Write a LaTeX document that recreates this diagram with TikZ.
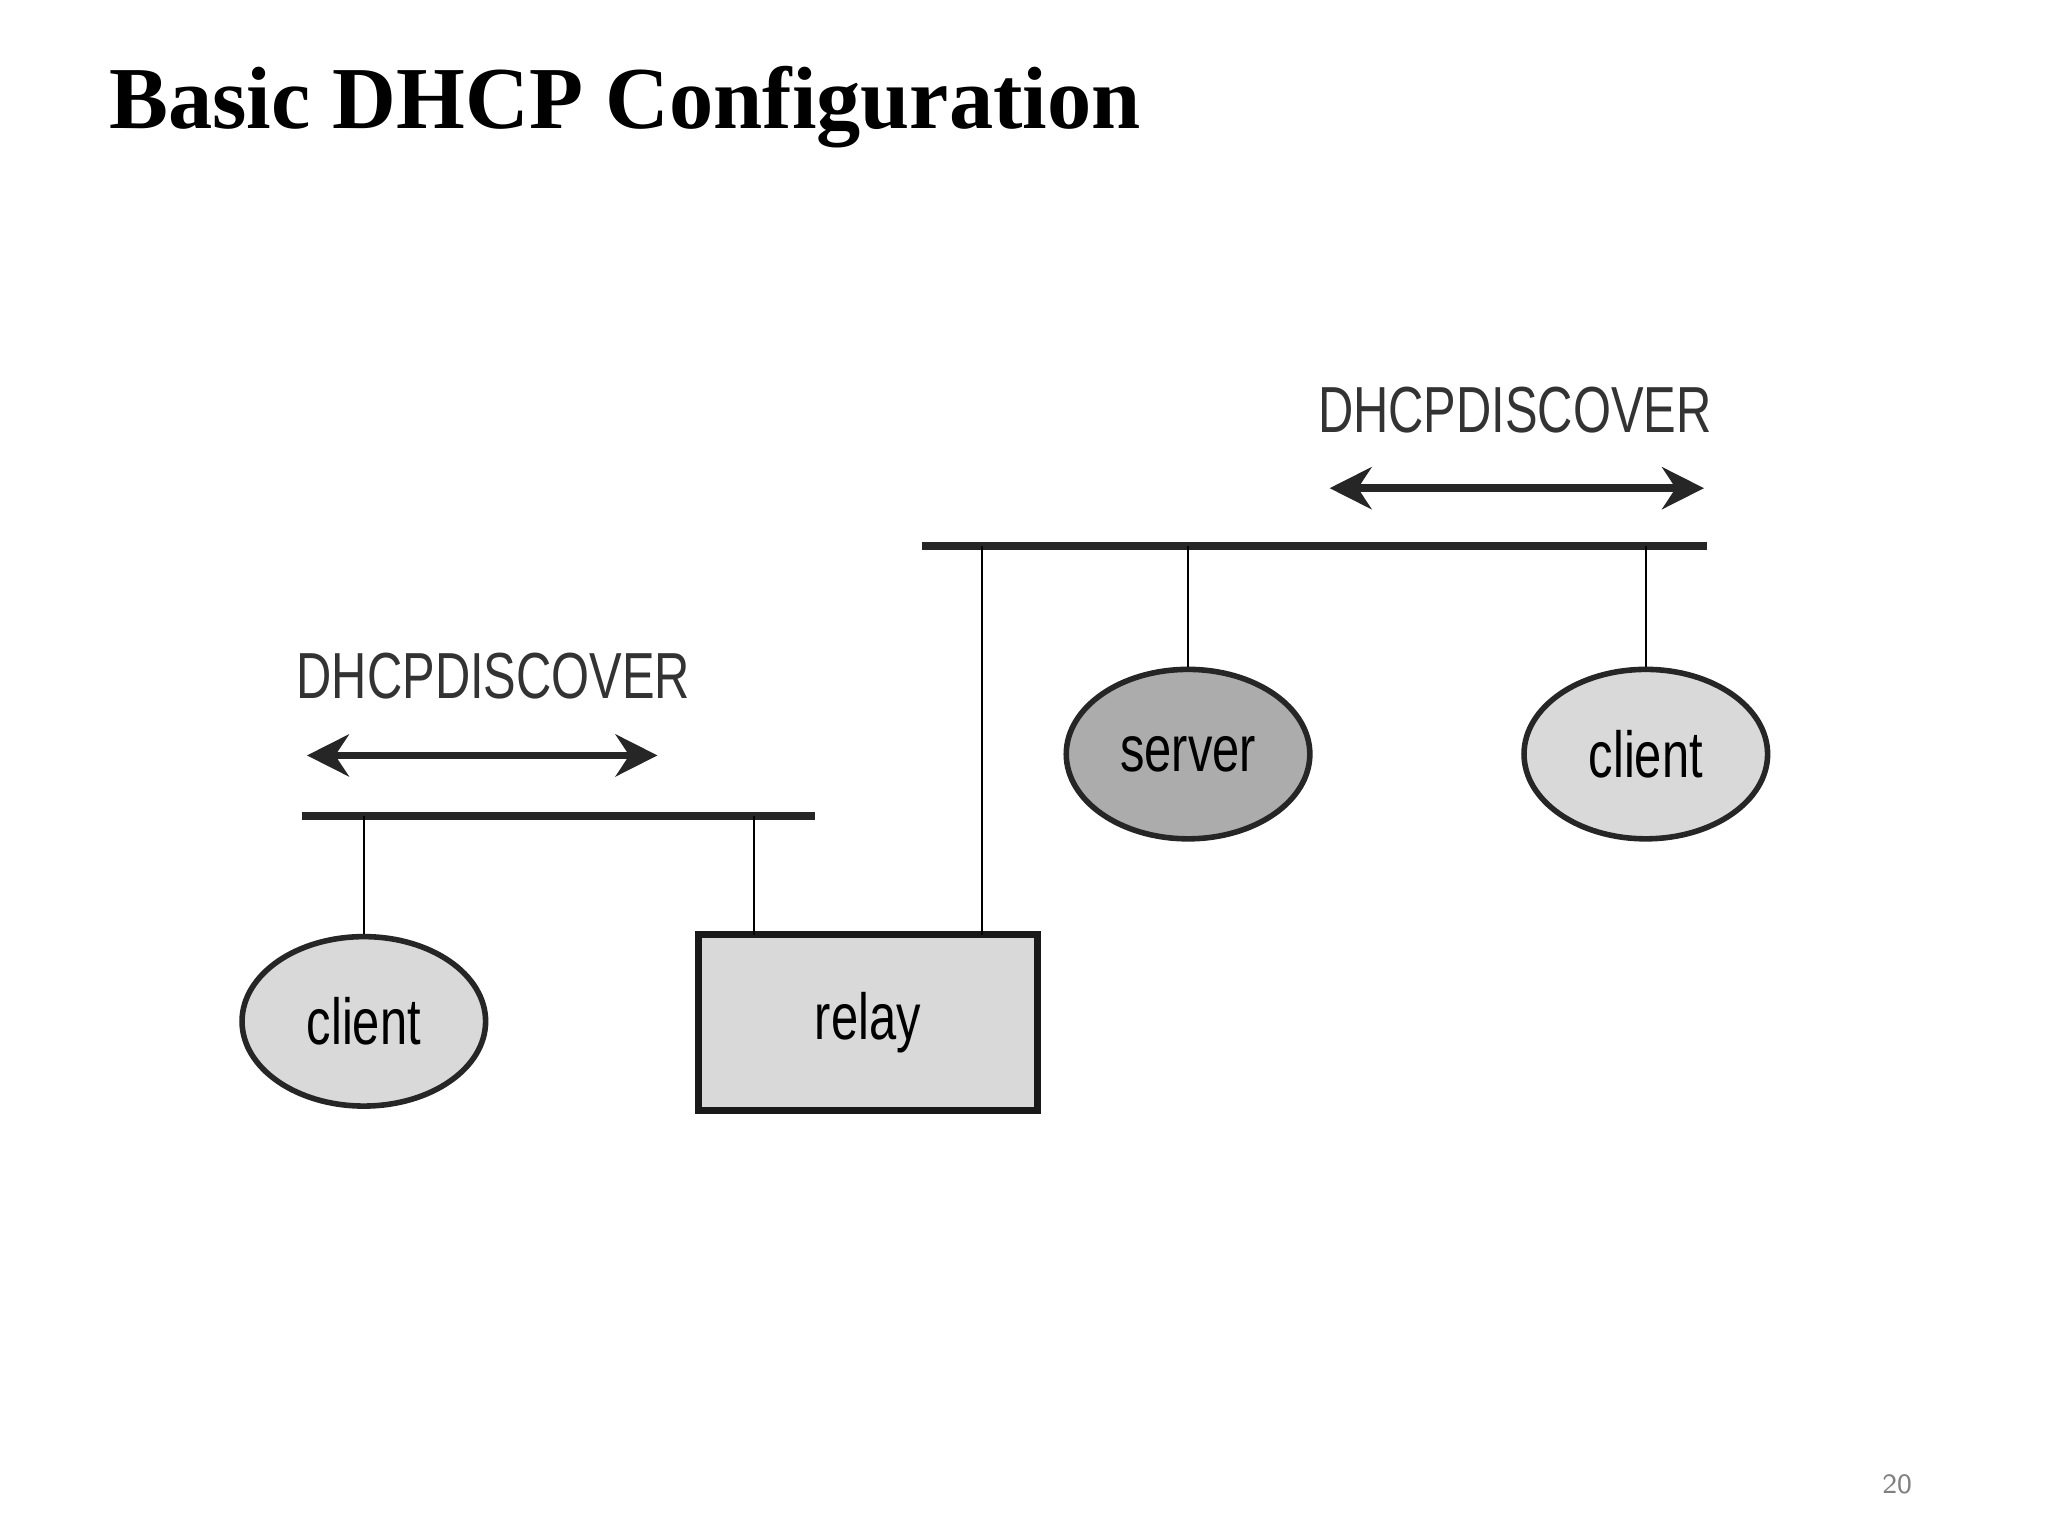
\documentclass[tikz,border=0pt]{standalone}
\usepackage{fontspec}
\setmainfont{Liberation Serif}
\newfontfamily\lab{Liberation Sans}
\usetikzlibrary{arrows.meta,shapes.geometric}
\begin{document}
\begin{tikzpicture}[x=0.01cm,y=-0.01cm,
  bus/.style={line width=1.7pt,color=black!85},
  drop/.style={line width=0.4pt},
  host/.style={ellipse,draw=black!85,line width=1.2pt,fill=gray!30,minimum width=1.84cm,minimum height=1.28cm,inner sep=0pt,font=\lab\fontsize{14}{14}\selectfont},
  msg/.style={line width=1.6pt,color=black!85,{Stealth[length=9pt,width=9pt]}-{Stealth[length=9pt,width=9pt]}},
  lbl/.style={font=\lab\fontsize{14}{14}\selectfont,text=black!80}]
\useasboundingbox (0,0) rectangle (1548,1161);
\node[anchor=base west,inner sep=0pt,font=\bfseries\fontsize{19}{19}\selectfont] (title) at (82,97) {Basic DHCP Configuration};
% top network
\coordinate (tb1) at (697,413); \coordinate (tb2) at (1290,413);
\draw[bus] (tb1) -- (tb2);
\coordinate (ta1) at (1005,369); \coordinate (ta2) at (1288,369);
\draw[msg] (ta1) -- (ta2);
\node[lbl] (tl) at (1145,310) {\scalebox{0.75}[1]{DHCPDISCOVER}};
\node[host,fill=gray!65] (server) at (898,570) {\scalebox{0.75}[1]{server}};
\node[host] (client2) at (1244,570) {\scalebox{0.75}[1]{client}};
% bottom network
\coordinate (bb1) at (228,617); \coordinate (bb2) at (616,617);
\draw[bus] (bb1) -- (bb2);
\coordinate (ba1) at (232,571); \coordinate (ba2) at (497,571);
\draw[msg] (ba1) -- (ba2);
\node[lbl] (bl) at (373,511) {\scalebox{0.75}[1]{DHCPDISCOVER}};
\node[host] (client1) at (275,772) {\scalebox{0.75}[1]{client}};
\node[draw=black!90,line width=1.4pt,fill=gray!30,minimum width=2.56cm,minimum height=1.33cm,inner sep=0pt,font=\lab\fontsize{14}{14}\selectfont] (relay) at (656,773) {\scalebox{0.75}[1]{relay}};
% drops
\draw[drop] (client1.north |- bb1) -- (client1.north);
\draw[drop] (570,617) -- (570,707);
\draw[drop] (742,413) -- (742,707);
\draw[drop] (server.north |- tb1) -- (server.north);
\draw[drop] (client2.north |- tb1) -- (client2.north);
\node[font=\sffamily\fontsize{6}{6}\selectfont,text=gray] (pg) at (1434,1122) {20};
\end{tikzpicture}
\end{document}
